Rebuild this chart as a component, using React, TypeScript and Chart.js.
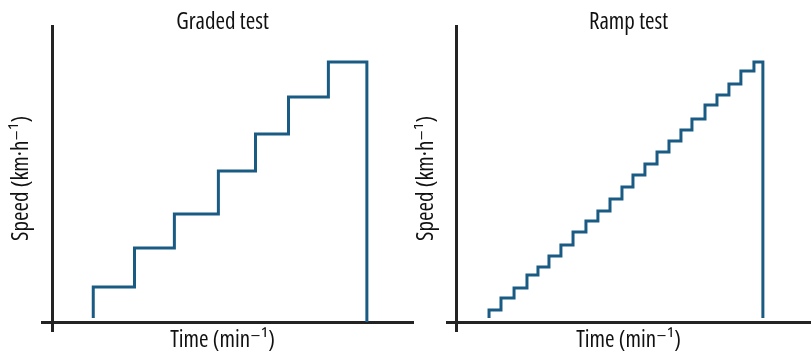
import { useEffect, useRef } from 'react';
import { Chart, registerables } from 'chart.js';

Chart.register(...registerables);

// ---- texts ----
const gradedTitle = 'Graded test';
const rampTitle = 'Ramp test';
const xAxisLabel = 'Time (min⁻¹)';
const yAxisLabel = 'Speed (km·h⁻¹)';

// ---- graded test (stage start times, speed of each stage) ----
const gradedStartSpeed = 0.2;
const gradedStageStarts = [3.0, 6.0, 8.9, 12.1, 14.8, 17.2, 20.1];
const gradedStageSpeeds = [1.75, 3.7, 5.4, 7.55, 9.4, 11.25, 13.0];
const gradedEndTime = 22.9;
const gradedEndSpeed = 0;

// ---- ramp test ----
const rampStartSpeed = 0.2;
const rampStageStarts = [
  2.33, 3.2, 4.15, 5.09, 5.89, 6.69, 7.56, 8.44, 9.38, 10.25, 11.13, 12.0,
  12.8, 13.67, 14.55, 15.42, 16.29, 17.09, 18.04, 18.91, 19.78, 20.65, 21.6,
];
const rampStageSpeeds = [
  0.6, 1.2, 1.7, 2.35, 2.75, 3.3, 3.85, 4.5, 5.05, 5.55, 6.15, 6.75, 7.35,
  7.9, 8.5, 9.05, 9.6, 10.15, 10.85, 11.35, 11.9, 12.55, 13.0,
];
const rampEndTime = 22.25;
const rampEndSpeed = 0.2;

// ---- axis ranges ----
const xMin = -0.8;
const xMaxLeft = 25.6;
const xMaxRight = 25.75;
const yMin = -0.5;
const yMax = 14.85;

const FONT_FAMILY = "'Open Sans', 'DejaVu Sans Condensed', sans-serif";
const FONT_STRETCH = 'condensed';
const FONT_SIZE = 23;
const LINE_COLOR = '#1a5b84';
const AXIS_COLOR = '#232323';
const TEXT_COLOR = '#111111';

function buildPoints(startSpeed: number, starts: number[], speeds: number[], endTime: number, endSpeed: number) {
  const pts = [{ x: starts[0], y: startSpeed }];
  starts.forEach((t, i) => pts.push({ x: t, y: speeds[i] }));
  pts.push({ x: endTime, y: endSpeed });
  return pts;
}

function makeConfig(opts: {
  title: string;
  points: { x: number; y: number }[];
  xMax: number;
  yAxisWidth: number;
  yTitlePad: number;
  rightExtension: number;
}): any {
  const zeroTick = (s: any) => {
    s.ticks = [{ value: 0 }];
  };
  // weight slot carries the font-stretch keyword into the canvas font shorthand
  const font = { family: FONT_FAMILY, size: FONT_SIZE, lineHeight: 1, weight: FONT_STRETCH };
  const scales: any = {
    x: {
      type: 'linear',
      min: xMin,
      max: opts.xMax,
      afterBuildTicks: zeroTick,
      afterFit: (s: any) => {
        s.height = 20;
      },
      ticks: { display: false },
      border: { display: false },
      grid: { color: AXIS_COLOR, lineWidth: 3, drawTicks: false },
      title: { display: true, text: xAxisLabel, font, color: TEXT_COLOR, padding: 0 },
    },
    y: {
      type: 'linear',
      position: 'left',
      min: yMin,
      max: yMax,
      afterBuildTicks: zeroTick,
      afterFit: (s: any) => {
        s.width = opts.yAxisWidth;
      },
      ticks: { display: false },
      border: { display: false },
      grid: { color: AXIS_COLOR, lineWidth: 3, drawTicks: false },
      title: {
        display: true,
        text: yAxisLabel,
        font,
        color: TEXT_COLOR,
        padding: { top: opts.yTitlePad, bottom: 0 },
      },
    },
  };
  if (opts.rightExtension > 0) {
    scales.y2 = {
      type: 'linear',
      position: 'right',
      min: yMin,
      max: yMax,
      afterBuildTicks: zeroTick,
      afterFit: (s: any) => {
        s.width = opts.rightExtension;
      },
      ticks: { display: false },
      border: { display: false },
      grid: {
        color: AXIS_COLOR,
        lineWidth: 3,
        drawOnChartArea: false,
        drawTicks: true,
        tickLength: opts.rightExtension,
        tickColor: AXIS_COLOR,
        tickWidth: 3,
      },
    };
  }
  return {
    type: 'line',
    data: {
      datasets: [
        {
          data: opts.points,
          borderColor: LINE_COLOR,
          borderWidth: 3,
          pointRadius: 0,
          stepped: true,
          fill: false,
          tension: 0,
          borderJoinStyle: 'miter',
          borderCapStyle: 'butt',
        },
      ],
    },
    options: {
      animation: false,
      responsive: false,
      devicePixelRatio: 1,
      layout: { padding: 0 },
      plugins: {
        legend: { display: false },
        tooltip: { enabled: false },
        title: {
          display: true,
          text: opts.title,
          fullSize: false,
          color: TEXT_COLOR,
          font,
          padding: { top: 10.6, bottom: -8.6 },
        },
      },
      scales,
    },
  };
}

function StepChart(props: { config: any; left: number; width: number }) {
  const ref = useRef<HTMLCanvasElement>(null);
  useEffect(() => {
    if (!ref.current) return;
    const chart = new Chart(ref.current, props.config);
    return () => chart.destroy();
  }, []);
  return (
    <div style={{ position: 'absolute', left: props.left, top: 0, width: props.width, height: 352 }}>
      <canvas ref={ref} width={props.width} height={352} style={{ display: 'block' }} />
    </div>
  );
}

export default function App() {
  const leftCfg = makeConfig({
    title: gradedTitle,
    points: buildPoints(gradedStartSpeed, gradedStageStarts, gradedStageSpeeds, gradedEndTime, gradedEndSpeed),
    xMax: xMaxLeft,
    yAxisWidth: 41,
    yTitlePad: 9.6,
    rightExtension: 10,
  });
  const rightCfg = makeConfig({
    title: rampTitle,
    points: buildPoints(rampStartSpeed, rampStageStarts, rampStageSpeeds, rampEndTime, rampEndSpeed),
    xMax: xMaxRight,
    yAxisWidth: 32,
    yTitlePad: 0.6,
    rightExtension: 0,
  });
  return (
    <div style={{ position: 'absolute', left: 0, top: 0, width: 811, height: 352, background: '#fff' }}>
      <StepChart config={leftCfg} left={0} width={414} />
      <StepChart config={rightCfg} left={414} width={397} />
    </div>
  );
}
